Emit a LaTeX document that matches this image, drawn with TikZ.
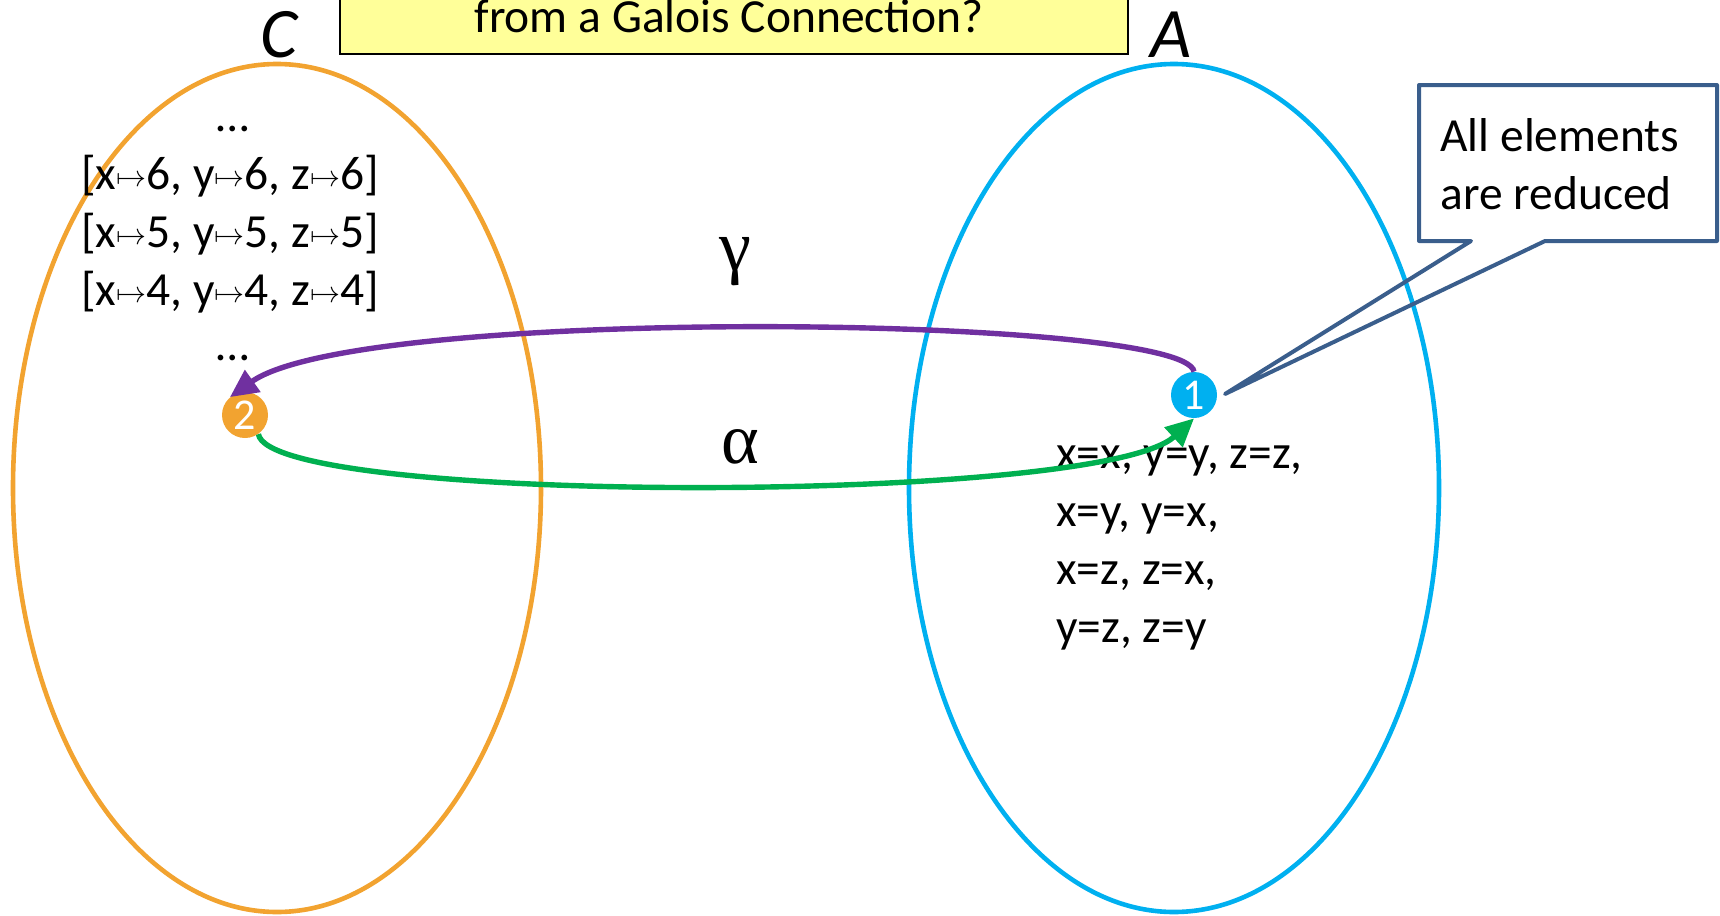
\documentclass[tikz,border=0pt]{standalone}
\usepackage{fontspec}
\setmainfont{Carlito}
\newfontfamily\greekfont{Liberation Serif}
\usetikzlibrary{arrows.meta}
\definecolor{setorange}{RGB}{242,163,48}
\definecolor{setblue}{RGB}{0,176,240}
\definecolor{gammapurple}{RGB}{112,48,160}
\definecolor{alphagreen}{RGB}{0,176,80}
\definecolor{noteblue}{RGB}{58,94,140}
\definecolor{titleyellow}{RGB}{255,255,153}
\newcommand{\mto}{\raisebox{1.5pt}{\scalebox{1.5}{\normalsize$\mapsto$}}}

\begin{document}
\begin{tikzpicture}[
 x=0.5pt,y=-0.5pt,
 every node/.style={font=\fontsize{23.75}{29}\selectfont},
 txt/.style={inner sep=0pt},
 setname/.style={font=\fontsize{35.5}{40}\selectfont\itshape,inner sep=0pt,anchor=base},
 greek/.style={font=\fontsize{36}{40}\selectfont\greekfont,inner sep=0pt},
 badge/.style={circle,inner sep=0pt,minimum size=23pt,text=white,font=\fontsize{22}{24}\selectfont},
 setline/.style={line width=2.3pt},
 arr/.style={-{Triangle[length=14pt,width=13pt]},line width=2.7pt}
]
\clip (0,0) rectangle (1720,916);
\draw[fill=titleyellow,line width=1pt] (340,-70) rectangle (1128,54);
\node[txt,anchor=base] (title) at (729,32) {from a Galois Connection?};
\draw[setline,setorange] (277,488) ellipse [x radius=264, y radius=424];
\draw[setline,setblue] (1174,488) ellipse [x radius=265, y radius=424];
\node[setname] (cname) at (279,57) {C};
\node[setname] (aname) at (1171,57) {A};
\node[txt,anchor=base] (ctop) at (233,131) {…};
\foreach \v [count=\i] in {6,5,4}
 \node[txt,anchor=base] (c\v) at (230,131+58*\i) {[x\mto\v, y\mto\v, z\mto\v]};
\node[txt,anchor=base] (cbot) at (233,360) {…};
\foreach \t [count=\i from 0] in {{x=x, y=y, z=z,},{x=y, y=x,},{x=z, z=x,},{y=z, z=y}}
 \node[txt,anchor=base west] (a\i) at (1056,468+58*\i) {\t};
\node[badge,fill=setorange] (two) at (245,415) {2};
\node[badge,fill=setblue] (one) at (1194,395) {1};
\draw[arr,gammapurple] (one.north) .. controls (1185,315) and (360,305) .. (two.130);
\draw[arr,alphagreen] (two.-55) .. controls (270,505) and (1100,505) .. (one.south);
\node[greek] (gamma) at (735,262) {γ};
\node[greek] (alpha) at (740,447) {α};
\node[txt,anchor=base west] (note1) at (1440,151) {All elements};
\node[txt,anchor=base west] (note2) at (1440,209) {are reduced};
\coordinate (tip) at (1225,394);
\draw[noteblue,line width=2pt,line join=round] (1419,85) -- (1717,85) -- (1717,241) -- (1545,241) -- (tip) -- (1471,241) -- (1419,241) -- cycle;
\end{tikzpicture}
\end{document}
